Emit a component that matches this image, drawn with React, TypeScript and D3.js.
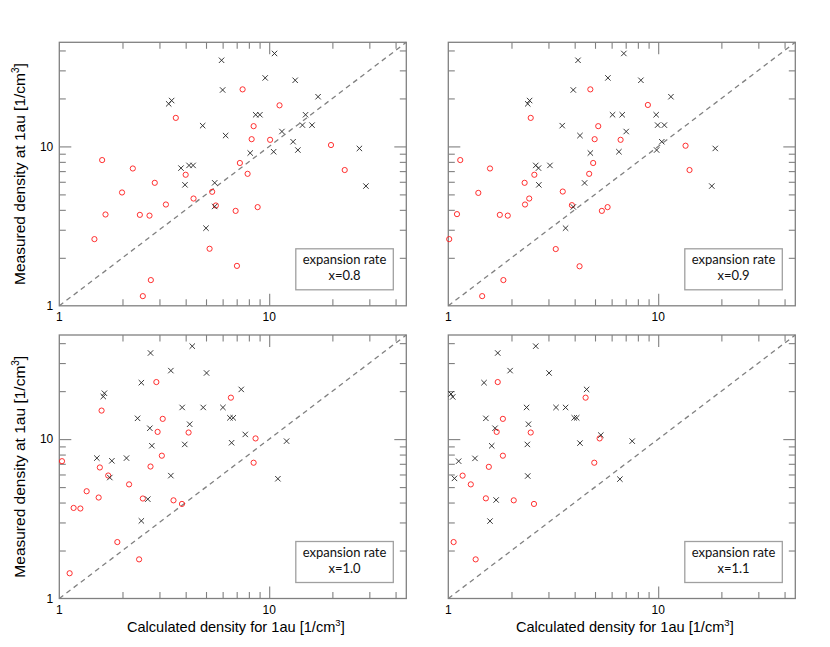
import { useEffect, useRef } from "react";
import * as d3 from "d3";

// ─── Data: [calculated density, measured density] ─────────────────────────────

const RATES = ["0.8", "0.9", "1.0", "1.1"];

const CROSS_08: [number, number][] = [
  [5.93, 34.7], [6.0, 22.6], [3.32, 18.5], [3.43, 19.4], [4.82, 13.5], [6.2, 11.7],
  [3.8, 7.31], [4.15, 7.6], [4.34, 7.6], [10.6, 38.3], [9.57, 26.9], [13.3, 26.0],
  [17.1, 20.5], [8.62, 15.8], [9.03, 15.8], [14.9, 15.8], [14.4, 13.6], [16.0, 13.6],
  [11.5, 12.4], [13.0, 10.7], [8.12, 9.09], [10.5, 9.26], [13.7, 9.49], [26.9, 9.71],
  [3.97, 5.74], [5.5, 5.91], [5.5, 4.2], [5.0, 3.07], [28.9, 5.64],
];
const CIRCLE_08: [number, number][] = [
  [3.59, 15.1], [1.6, 8.21], [2.24, 7.27], [4.0, 6.64], [7.25, 7.87], [7.47, 22.8],
  [11.2, 18.1], [8.43, 13.4], [8.25, 11.1], [10.1, 11.0], [19.7, 10.2], [7.89, 6.73],
  [22.9, 7.11], [2.85, 5.91], [1.99, 5.14], [3.22, 4.32], [4.36, 4.71], [5.35, 5.19],
  [5.57, 4.26], [6.92, 3.94], [1.66, 3.74], [2.42, 3.72], [2.69, 3.68], [1.47, 2.62],
  [5.2, 2.28], [7.02, 1.78], [2.73, 1.45], [2.5, 1.15], [8.81, 4.16],
];

const CROSS_09: [number, number][] = [
  [4.15, 34.7], [5.76, 26.9], [3.94, 22.6], [2.39, 18.5], [2.44, 19.4], [6.06, 15.8],
  [6.74, 15.8], [9.78, 15.8], [3.49, 13.5], [4.24, 11.7], [4.75, 9.09], [6.5, 9.26],
  [2.61, 7.6], [2.69, 7.31], [3.05, 7.6], [2.7, 5.74], [4.46, 5.9], [3.94, 4.17],
  [3.62, 3.07], [6.86, 38.3], [8.27, 26.0], [11.5, 20.5], [7.04, 12.4], [9.94, 13.6],
  [10.7, 13.6], [10.4, 10.7], [9.83, 9.49], [18.7, 9.71], [18.0, 5.64],
];
const CIRCLE_09: [number, number][] = [
  [4.75, 22.8], [2.47, 15.1], [5.18, 13.4], [4.98, 11.1], [6.62, 11.0], [1.14, 8.21],
  [1.58, 7.27], [2.57, 6.64], [4.9, 7.87], [4.69, 6.73], [2.31, 5.91], [1.39, 5.11],
  [2.43, 4.71], [2.32, 4.32], [3.51, 5.21], [3.88, 4.28], [5.39, 3.94], [5.74, 4.16],
  [1.1, 3.76], [1.76, 3.72], [1.92, 3.68], [1.01, 2.62], [3.25, 2.27], [4.22, 1.77],
  [1.83, 1.45], [1.45, 1.15], [8.93, 18.2], [13.5, 10.1], [14.1, 7.11],
];

const CROSS_10: [number, number][] = [
  [4.3, 38.3], [2.72, 34.7], [3.4, 26.9], [5.03, 26.0], [2.46, 22.6], [1.64, 19.4],
  [1.62, 18.5], [7.36, 20.5], [3.85, 15.8], [4.85, 15.8], [6.02, 15.8], [2.36, 13.5],
  [2.7, 11.7], [4.18, 12.4], [6.5, 13.6], [6.74, 13.6], [2.76, 9.09], [3.96, 9.26],
  [6.62, 9.49], [1.51, 7.6], [1.78, 7.31], [2.09, 7.6], [1.74, 5.74], [3.4, 5.9],
  [2.64, 4.2], [2.46, 3.07], [7.69, 10.7], [12.1, 9.71], [11.0, 5.64],
];
const CIRCLE_10: [number, number][] = [
  [2.9, 22.8], [1.59, 15.1], [3.11, 13.4], [2.94, 11.1], [4.13, 11.0], [1.03, 7.27],
  [3.08, 7.87], [1.56, 6.64], [2.72, 6.73], [1.71, 5.91], [2.15, 5.2], [1.35, 4.71],
  [1.54, 4.3], [1.17, 3.7], [1.26, 3.67], [2.5, 4.24], [3.5, 4.13], [3.84, 3.92],
  [1.89, 2.26], [2.4, 1.76], [1.12, 1.44], [6.57, 18.2], [8.61, 10.1], [8.43, 7.11],
];

const CROSS_11: [number, number][] = [
  [2.61, 38.3], [1.72, 34.7], [1.97, 26.9], [3.02, 26.0], [1.48, 22.6], [1.03, 19.2],
  [1.05, 18.4], [4.56, 20.5], [2.36, 15.8], [3.26, 15.8], [3.62, 15.8], [1.51, 13.5],
  [1.67, 11.7], [2.41, 12.4], [3.98, 13.6], [4.09, 13.6], [1.61, 9.08], [2.38, 9.26],
  [4.24, 9.44], [5.33, 10.6], [1.12, 7.27], [1.34, 7.57], [1.07, 5.67], [2.39, 5.87],
  [1.69, 4.15], [1.58, 3.06], [6.57, 5.61], [7.52, 9.71],
];
const CIRCLE_11: [number, number][] = [
  [1.72, 22.8], [4.51, 18.2], [1.82, 13.4], [1.7, 11.1], [2.47, 11.0], [5.26, 10.1],
  [1.82, 7.87], [4.96, 7.11], [1.56, 6.7], [1.17, 5.9], [1.28, 5.2], [1.51, 4.25],
  [2.05, 4.13], [2.56, 3.92], [1.06, 2.26], [1.35, 1.76],
];

const CROSSES = [CROSS_08, CROSS_09, CROSS_10, CROSS_11];
const CIRCLES = [CIRCLE_08, CIRCLE_09, CIRCLE_10, CIRCLE_11];

const DOMAIN: [number, number] = [1, 45];
const MINOR_TICKS = [2, 3, 4, 5, 6, 7, 8, 9, 20, 30, 40];
const MAJOR_TICKS = [10];
const TICK_LABELS = [1, 10];

// ─── Style ────────────────────────────────────────────────────────────────────

const FRAME = "#808080";
const RED = "#ff1a1a";
const INK = "#222";
const SANS = "'Liberation Sans', Arial, sans-serif";
const LEGEND_FONT = "Lato, 'Open Sans', sans-serif";

const W = 830,
  H = 647;
const PW = 347,
  PH = 263.5;
const COL_X = [59.3, 448.3];
const ROW_Y = [42.3, 335];

export default function App() {
  const svgRef = useRef<SVGSVGElement>(null);

  useEffect(() => {
    if (!svgRef.current) return;
    const svg = d3.select(svgRef.current);
    svg.selectAll("*").remove();

    const x = d3.scaleLog().domain(DOMAIN).range([0, PW]);
    const y = d3.scaleLog().domain(DOMAIN).range([PH, 0]);

    RATES.forEach((rate, i) => {
      const col = i % 2;
      const row = Math.floor(i / 2);
      const ox = COL_X[col];
      const oy = ROW_Y[row];
      const g = svg.append("g").attr("transform", `translate(${ox},${oy})`);

      // inward ticks on all four sides
      const sides: [any, string, any][] = [
        [d3.axisBottom, `translate(0,${PH})`, x],
        [d3.axisTop, "translate(0,0)", x],
        [d3.axisLeft, "translate(0,0)", y],
        [d3.axisRight, `translate(${PW},0)`, y],
      ];
      sides.forEach(([make, tr, sc]) => {
        (
          [
            [MINOR_TICKS, 6.5],
            [MAJOR_TICKS, 12],
          ] as [number[], number][]
        ).forEach(([vals, len]) => {
          g.append("g")
            .attr("transform", tr)
            .call(
              make(sc)
                .tickValues(vals)
                .tickSize(-len)
                .tickFormat(() => ""),
            )
            .call((ax: any) => {
              ax.select(".domain").remove();
              ax.selectAll("text").remove();
              ax.selectAll(".tick line")
                .attr("stroke", FRAME)
                .attr("stroke-width", 1.1);
            });
        });
      });

      // frame
      g.append("rect")
        .attr("width", PW)
        .attr("height", PH)
        .attr("fill", "none")
        .attr("stroke", FRAME)
        .attr("stroke-width", 1.3);

      // one-to-one line
      const line = d3
        .line<number>()
        .x((d) => x(d))
        .y((d) => y(d));
      g.append("path")
        .attr("d", line(DOMAIN))
        .attr("fill", "none")
        .attr("stroke", FRAME)
        .attr("stroke-width", 1.3)
        .attr("stroke-dasharray", "5,4");

      // circles
      g.selectAll(".circ")
        .data(CIRCLES[i])
        .enter()
        .append("circle")
        .attr("cx", (d) => x(d[0]))
        .attr("cy", (d) => y(d[1]))
        .attr("r", 2.6)
        .attr("fill", "none")
        .attr("stroke", RED)
        .attr("stroke-width", 0.9);

      // crosses
      const s = 2.7;
      g.selectAll(".cross")
        .data(CROSSES[i])
        .enter()
        .append("path")
        .attr("transform", (d) => `translate(${x(d[0])},${y(d[1])})`)
        .attr("d", `M${-s},${-s}L${s},${s}M${-s},${s}L${s},${-s}`)
        .attr("stroke", INK)
        .attr("stroke-width", 0.9);

      // x tick labels
      TICK_LABELS.forEach((v) => {
        g.append("text")
          .attr("x", x(v))
          .attr("y", PH + 15.5)
          .attr("text-anchor", "middle")
          .attr("font-size", 12)
          .attr("font-family", SANS)
          .text(v);
      });

      // y tick labels + title (left column)
      if (col === 0) {
        TICK_LABELS.forEach((v) => {
          g.append("text")
            .attr("x", -6)
            .attr("y", y(v) + 4.3)
            .attr("text-anchor", "end")
            .attr("font-size", 12)
            .attr("font-family", SANS)
            .text(v);
        });
        const t = svg
          .append("text")
          .attr("transform", `translate(25,${oy + PH / 2}) rotate(-90)`)
          .attr("text-anchor", "middle")
          .attr("font-size", 15.5)
          .attr("font-family", SANS);
        t.append("tspan").text("Measured density at 1au [1/cm");
        t.append("tspan").attr("dy", -6).attr("font-size", 10).text("3");
        t.append("tspan").attr("dy", 6).text("]");
      }

      // x title (bottom row)
      if (row === 1) {
        const t = svg
          .append("text")
          .attr("x", ox + PW / 2 + 3)
          .attr("y", 631.7)
          .attr("text-anchor", "middle")
          .attr("font-size", 14.6)
          .attr("font-family", SANS);
        t.append("tspan").text("Calculated density for 1au [1/cm");
        t.append("tspan").attr("dy", -5.5).attr("font-size", 9.5).text("3");
        t.append("tspan").attr("dy", 5.5).text("]");
      }

      // legend box
      const bw = 97.5,
        bh = 41;
      const bx = PW - 13 - bw;
      const by = PH - 16 - bh;
      g.append("rect")
        .attr("x", bx)
        .attr("y", by)
        .attr("width", bw)
        .attr("height", bh)
        .attr("fill", "#fff")
        .attr("stroke", "#a0a0a0")
        .attr("stroke-width", 1.3);
      g.append("text")
        .attr("x", bx + bw / 2)
        .attr("y", by + 15)
        .attr("text-anchor", "middle")
        .attr("font-size", 13)
        .attr("font-family", LEGEND_FONT)
        .attr("fill", "#111")
        .text("expansion rate");
      g.append("text")
        .attr("x", bx + bw / 2)
        .attr("y", by + 31.5)
        .attr("text-anchor", "middle")
        .attr("font-size", 13)
        .attr("font-family", LEGEND_FONT)
        .attr("fill", "#111")
        .text(`x=${rate}`);
    });
  }, []);

  return (
    <svg
      ref={svgRef}
      width={W}
      height={H}
      viewBox={`0 0 ${W} ${H}`}
      style={{ position: "absolute", left: 0, top: 0, background: "#fff" }}
    />
  );
}
